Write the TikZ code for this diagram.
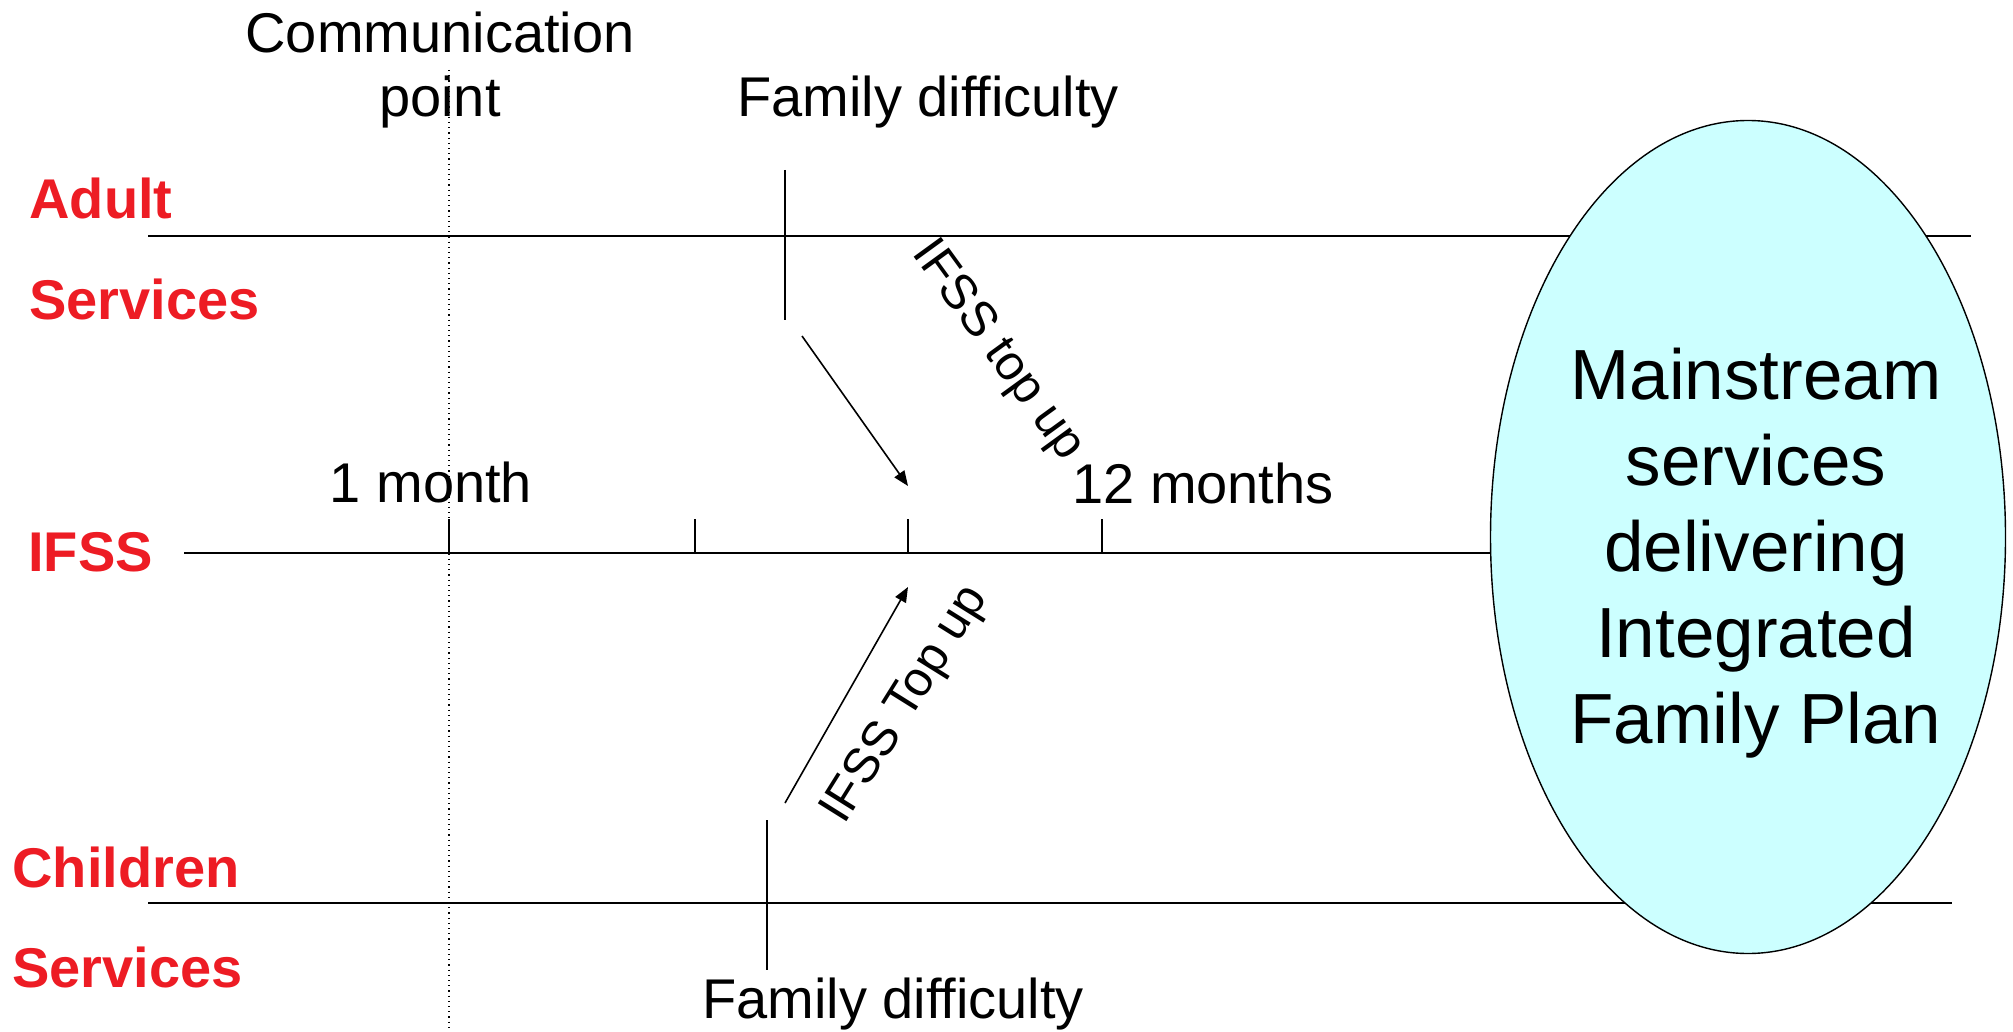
\documentclass[tikz,border=0pt]{standalone}
\usepackage{fontspec}
\setmainfont{Liberation Sans}
\usepackage{tikz}
\usetikzlibrary{arrows.meta,positioning,shapes.geometric}
\definecolor{ifssred}{HTML}{ED1C24}
\definecolor{plancyan}{HTML}{CCFFFF}

\begin{document}
\begin{tikzpicture}[
  x=0.5pt,y=-0.5pt,
  lane/.style={font=\fontsize{28}{32}\selectfont\bfseries,text=ifssred,
               anchor=base west,inner sep=0},
  lbl/.style={font=\fontsize{28}{32}\selectfont,anchor=base,inner sep=0},
  topup/.style={font=\fontsize{24.5}{28}\selectfont,inner sep=0},
  axis/.style={line width=1pt},
  tick/.style={line width=0.8pt},
  arr/.style={-{Triangle[length=7.5pt,width=6pt]},line width=0.8pt},
  plan/.style={ellipse,draw,line width=0.7pt,fill=plancyan,inner sep=0,
               minimum width=257.5pt,minimum height=416.5pt}
]
  \useasboundingbox (0,0) rectangle (2013,1032);

  % time lines
  \coordinate (adultL) at (148,236);  \coordinate (adultR) at (1971,236);
  \coordinate (ifssL) at (184,553);   \coordinate (ifssR) at (1750,553);
  \coordinate (childL) at (148,903);  \coordinate (childR) at (1952,903);
  \draw[axis] (adultL) -- (adultR);
  \draw[axis] (ifssL) -- (ifssR);
  \draw[axis] (childL) -- (childR);

  % communication point
  \coordinate (commtop) at (449,70);
  \coordinate (commbot) at (449,1032);
  \draw[dotted,line width=0.6pt] (commtop) -- (commbot);
  \node[lbl,anchor=center,align=center] (comm) at (440,70) {Communication\\point};

  % ticks on the IFSS line
  \foreach \tx/\tn in {449/a,695/b,908/c,1102/d}{
    \coordinate (tick\tn) at (\tx,519);
    \draw[tick] (tick\tn) -- (\tx,553);
  }
  \node[lbl] (onemonth) at (431,502) {1 month};
  \node[lbl] (twelve) at (1203,503) {12 months};

  % family difficulties
  \coordinate (adiffT) at (785,170); \coordinate (adiffB) at (785,320);
  \coordinate (cdiffT) at (767,820); \coordinate (cdiffB) at (767,970);
  \draw[tick] (adiffT) -- (adiffB);
  \draw[tick] (cdiffT) -- (cdiffB);
  \node[lbl] (adiff) at (928,117) {Family difficulty};
  \node[lbl] (cdiff) at (893,1018) {Family difficulty};

  % top ups
  \coordinate (adown) at (802,336);  \coordinate (adownend) at (908,486);
  \coordinate (cup) at (785,803);    \coordinate (cupend) at (908,587);
  \draw[arr] (adown) -- (adownend);
  \draw[arr] (cup) -- (cupend);
  \node[topup,rotate=-54] (topa) at (997,351) {IFSS top up};
  \node[topup,rotate=58] (topc) at (906,705) {IFSS Top up};

  % services
  \node[lane] (adult) at (29,219) {Adult};
  \node[lane] (adultsv) at (29,320) {Services};
  \node[lane] (ifss) at (28,571) {IFSS};
  \node[lane] (child) at (12,887) {Children};
  \node[lane] (childsv) at (12,987) {Services};

  % mainstream
  \node[plan] (ifp) at (1748,537) {};
  \node[font=\fontsize{35.5}{43}\selectfont,align=center,inner sep=0]
    (ifptext) at ([xshift=4pt,yshift=-8pt]ifp.center)
    {Mainstream\\services\\delivering\\Integrated\\Family Plan};
\end{tikzpicture}
\end{document}
